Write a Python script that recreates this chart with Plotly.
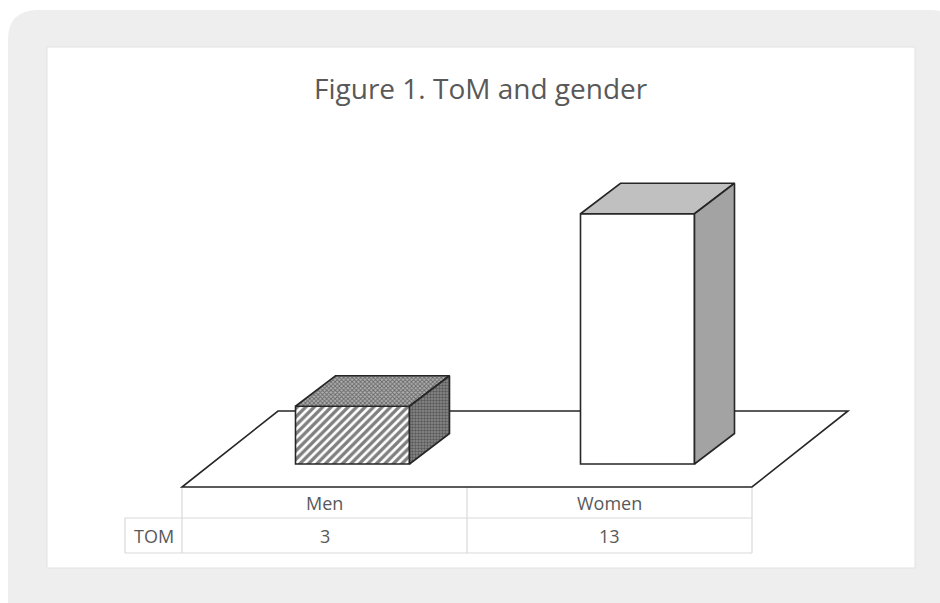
import plotly.graph_objects as go

# ---------------- data ----------------
categories = ["Men", "Women"]
tom_values = [3, 13]
row_label = "TOM"
title_text = "Figure 1. ToM and gender"

# ---------------- geometry (pixel calibration) ----------------
W, H = 940, 603
PX_PER_CAT = 285.0      # pixels per category slot
X_LEFT_PX = 182.0       # pixel of x = -0.5
BASE_PX = 464.0         # pixel of value 0
PX_PER_UNIT = 19.25     # pixels per value unit

x_lo = -0.5 - X_LEFT_PX / PX_PER_CAT
x_hi = -0.5 + (W - X_LEFT_PX) / PX_PER_CAT
y_hi = BASE_PX / PX_PER_UNIT
y_lo = -(H - BASE_PX) / PX_PER_UNIT

BAR_W = 114 / PX_PER_CAT
FRONT_SHIFT = 28 / PX_PER_CAT
DX = 40 / PX_PER_CAT
DY = 30.5 / PX_PER_UNIT
FLOOR_FRONT = -23 / PX_PER_UNIT
FLOOR_DX = 96 / PX_PER_CAT
FLOOR_DY = 76 / PX_PER_UNIT

EDGE = "#262626"
TXT = "#595959"
GRID = "#d9d9d9"
FONT = "Open Sans"


def px(xp):
    return xp / W


def py(yp):
    return 1 - yp / H


xs = list(range(len(categories)))
fig = go.Figure()

# front faces (bars)
front_patterns = [
    dict(shape="/", fgcolor="#000000", bgcolor="white", size=6, solidity=0.55),
    dict(shape="", fgcolor="white", bgcolor="white"),
]
for i, (cat, v) in enumerate(zip(categories, tom_values)):
    fig.add_trace(go.Bar(
        x=[xs[i] + FRONT_SHIFT], y=[v], base=0, width=BAR_W,
        marker=dict(color="white", line=dict(color=EDGE, width=1.6),
                    pattern=front_patterns[i]),
        showlegend=False, hoverinfo="skip", name=cat,
    ))

top_styles = [
    dict(fillcolor="#6a6a6a", pattern=dict(shape="x", fgcolor="#1e1e1e", bgcolor="#b0b0b0", size=3, solidity=0.5)),
    dict(fillcolor="#c0c0c0", pattern=None),
]
side_styles = [
    dict(fillcolor="#5e5e5e", pattern=dict(shape=".", fgcolor="#262626", bgcolor="#8c8c8c", size=3, solidity=0.5)),
    dict(fillcolor="#a3a3a3", pattern=None),
]

for i, v in enumerate(tom_values):
    xl = xs[i] + FRONT_SHIFT - BAR_W / 2
    xr = xs[i] + FRONT_SHIFT + BAR_W / 2
    # top face
    ts = top_styles[i]
    kw = dict(fillpattern=ts["pattern"]) if ts["pattern"] else {}
    fig.add_trace(go.Scatter(
        x=[xl, xr, xr + DX, xl + DX, xl], y=[v, v, v + DY, v + DY, v],
        mode="lines", fill="toself", fillcolor=ts["fillcolor"],
        line=dict(color=EDGE, width=1.6), showlegend=False, hoverinfo="skip", **kw))
    # side face
    ss = side_styles[i]
    kw = dict(fillpattern=ss["pattern"]) if ss["pattern"] else {}
    fig.add_trace(go.Scatter(
        x=[xr, xr + DX, xr + DX, xr, xr], y=[0, DY, v + DY, v, 0],
        mode="lines", fill="toself", fillcolor=ss["fillcolor"],
        line=dict(color=EDGE, width=1.6), showlegend=False, hoverinfo="skip", **kw))

shapes = []
# outer rounded grey card
r = 30
x0, y0, x1, y1 = 8, 10, 960, 640
shapes.append(dict(
    type="path", xref="paper", yref="paper", layer="below",
    path=(f"M {px(x0 + r)},{py(y0)} L {px(x1 - r)},{py(y0)} "
          f"Q {px(x1)},{py(y0)} {px(x1)},{py(y0 + r)} L {px(x1)},{py(y1 - r)} "
          f"Q {px(x1)},{py(y1)} {px(x1 - r)},{py(y1)} L {px(x0 + r)},{py(y1)} "
          f"Q {px(x0)},{py(y1)} {px(x0)},{py(y1 - r)} L {px(x0)},{py(y0 + r)} "
          f"Q {px(x0)},{py(y0)} {px(x0 + r)},{py(y0)} Z"),
    fillcolor="#eeeeee", line=dict(width=0)))
# inner white panel
shapes.append(dict(type="rect", xref="paper", yref="paper", layer="below",
                   x0=px(47), x1=px(915), y0=py(568), y1=py(47),
                   fillcolor="white", line=dict(color="#e2e2e2", width=1)))
# floor
fx0, fx1 = -0.5, len(categories) - 0.5
shapes.append(dict(
    type="path", xref="x", yref="y", layer="below",
    path=(f"M {fx0},{FLOOR_FRONT} L {fx1},{FLOOR_FRONT} "
          f"L {fx1 + FLOOR_DX},{FLOOR_FRONT + FLOOR_DY} L {fx0 + FLOOR_DX},{FLOOR_FRONT + FLOOR_DY} Z"),
    fillcolor="white", line=dict(color=EDGE, width=1.6)))

# data table
row1_top, row1_bot, row2_bot = 487, 518, 553
label_left = 125
for k in range(len(categories) + 1):
    shapes.append(dict(type="line", xref="x", yref="paper", layer="below",
                       x0=k - 0.5, x1=k - 0.5, y0=py(row1_top), y1=py(row2_bot),
                       line=dict(color=GRID, width=1.2)))
for yy in (row1_bot, row2_bot):
    shapes.append(dict(type="line", xref="paper", yref="paper", layer="below",
                       x0=px(label_left), x1=px(X_LEFT_PX + PX_PER_CAT * len(categories)),
                       y0=py(yy), y1=py(yy), line=dict(color=GRID, width=1.2)))
shapes.append(dict(type="line", xref="paper", yref="paper", layer="below",
                   x0=px(label_left), x1=px(label_left), y0=py(row1_bot), y1=py(row2_bot),
                   line=dict(color=GRID, width=1.2)))

annotations = [dict(text=title_text, xref="paper", yref="paper", x=px(481), y=py(88),
                    xanchor="center", yanchor="middle", showarrow=False,
                    font=dict(family=FONT, size=28, color=TXT))]
for i, (cat, v) in enumerate(zip(categories, tom_values)):
    annotations.append(dict(text=cat, xref="x", yref="paper", x=xs[i], y=py((row1_top + row1_bot) / 2),
                            xanchor="center", yanchor="middle", showarrow=False,
                            font=dict(family=FONT, size=18, color=TXT)))
    annotations.append(dict(text=str(v), xref="x", yref="paper", x=xs[i], y=py((row1_bot + row2_bot) / 2),
                            xanchor="center", yanchor="middle", showarrow=False,
                            font=dict(family=FONT, size=18, color=TXT)))
annotations.append(dict(text=row_label, xref="paper", yref="paper", x=px((label_left + X_LEFT_PX) / 2),
                        y=py((row1_bot + row2_bot) / 2), xanchor="center", yanchor="middle",
                        showarrow=False, font=dict(family=FONT, size=18, color=TXT)))

fig.update_layout(
    width=W, height=H, autosize=False,
    margin=dict(l=0, r=0, t=0, b=0),
    paper_bgcolor="white", plot_bgcolor="rgba(0,0,0,0)",
    xaxis=dict(range=[x_lo, x_hi], visible=False, fixedrange=True),
    yaxis=dict(range=[y_lo, y_hi], visible=False, fixedrange=True),
    shapes=shapes, annotations=annotations, showlegend=False,
    barmode="overlay",
)

fig.write_html("out.html", config={"displayModeBar": False},
               post_script="document.body.style.margin='0';")
